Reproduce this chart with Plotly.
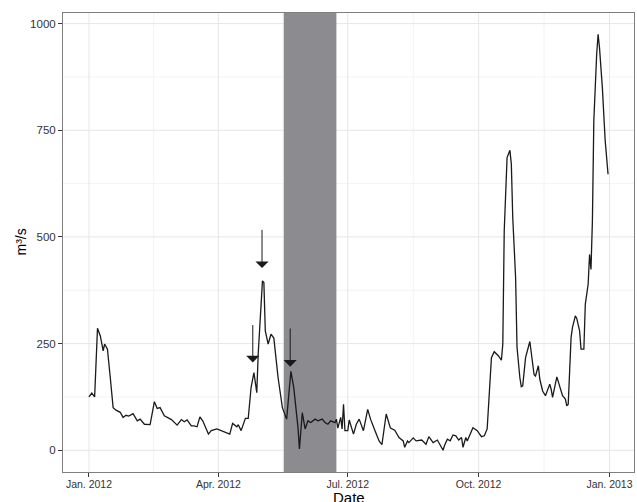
import pandas as pd
import plotly.graph_objects as go

# Daily discharge (m3/s), day offset from 2012-01-01
day = [0, 2, 4, 6, 8, 10, 11, 13, 15, 17, 19, 22, 24, 26, 28, 31, 34, 36, 39, 43,
       46, 48, 50, 53, 58, 62, 65, 67, 69, 72, 74, 76, 78, 80, 84, 86, 90, 93, 97, 99,
       101, 104, 105, 107, 110, 112, 114, 116, 118, 119, 122, 123, 124, 126, 128, 130, 133, 136, 139, 142,
       144, 146, 147, 148, 150, 152, 154, 156, 159, 161, 164, 166, 168, 170, 173, 174, 175, 177, 178, 179,
       180, 182, 183, 186, 188, 190, 193, 196, 198, 201, 204, 206, 209, 212, 215, 218, 221, 222, 224, 225,
       228, 230, 234, 237, 239, 242, 245, 249, 250, 252, 254, 256, 258, 260, 262, 263, 265, 266, 268, 270,
       273, 276, 278, 280, 283, 285, 288, 290, 291, 292, 294, 296, 297, 298, 300, 301, 303, 304, 305, 307,
       310, 312, 313, 314, 316, 317, 319, 321, 324, 325, 326, 329, 331, 333, 335, 336, 337, 339, 340, 342,
       343, 345, 346, 348, 349, 351, 352, 353, 354, 355, 357, 358, 359, 361, 363, 365]
flow = [125, 134, 125, 286, 268, 233, 249, 237, 170, 100, 94, 89, 77, 82, 80, 86, 69, 73, 61, 60,
        114, 98, 100, 81, 72, 59, 72, 67, 71, 57, 57, 55, 78, 69, 38, 46, 50, 46, 42, 38,
        63, 55, 60, 46, 75, 75, 147, 182, 135, 225, 397, 393, 280, 249, 272, 263, 170, 100, 73, 185,
        147, 93, 53, 3, 88, 50, 69, 65, 73, 69, 73, 65, 61, 69, 65, 73, 52, 77, 50, 108,
        46, 46, 71, 38, 61, 73, 46, 96, 73, 47, 22, 13, 85, 52, 47, 30, 22, 7, 22, 18,
        29, 22, 24, 14, 32, 18, 24, 0, 11, 26, 22, 36, 34, 24, 30, 7, 30, 22, 38, 53,
        46, 32, 34, 50, 217, 231, 221, 211, 249, 514, 686, 703, 670, 545, 405, 241, 170, 149, 151, 217,
        255, 210, 177, 174, 198, 167, 139, 128, 155, 143, 124, 172, 150, 128, 120, 104, 108, 264, 288, 315,
        309, 280, 237, 237, 342, 389, 459, 424, 537, 772, 928, 975, 943, 850, 725, 647]

shade_start = "2012-05-17"
shade_end = "2012-06-23"

# arrows: (day offset, tail value, tip value)
arrow_day = [115.2, 121.7, 141.5]
arrow_tail = [297, 520, 289]
arrow_tip = [206, 427, 196]

tick_dates = ["2012-01-01", "2012-04-01", "2012-07-01", "2012-10-01", "2013-01-01"]
tick_text = ["Jan. 2012", "Apr. 2012", "Jul. 2012", "Oct. 2012", "Jan. 2013"]
minor_dates = ["2012-02-15 12:00", "2012-05-16 12:00", "2012-08-16", "2012-11-16"]
y_ticks = [0, 250, 500, 750, 1000]
y_minor = [125, 375, 625, 875]
x_title = "Date"
y_title = "m³/s"

start = pd.Timestamp("2012-01-01")
dates = start + pd.to_timedelta(day, unit="D")

fig = go.Figure()
fig.add_trace(go.Scatter(x=dates, y=flow, mode="lines",
                         line=dict(color="#1a1a1a", width=1.3),
                         showlegend=False, hoverinfo="skip"))

# grid lines as shapes so the shaded band covers them
minor_col, major_col = "#f3f3f3", "#e6e6e6"
for v in y_minor:
    fig.add_shape(type="line", xref="paper", yref="y", x0=0, x1=1, y0=v, y1=v,
                  line=dict(color=minor_col, width=1), layer="below")
for d in minor_dates:
    fig.add_shape(type="line", xref="x", yref="paper", x0=d, x1=d, y0=0, y1=1,
                  line=dict(color=minor_col, width=1), layer="below")
for v in y_ticks:
    fig.add_shape(type="line", xref="paper", yref="y", x0=0, x1=1, y0=v, y1=v,
                  line=dict(color=major_col, width=1), layer="below")
for d in tick_dates:
    fig.add_shape(type="line", xref="x", yref="paper", x0=d, x1=d, y0=0, y1=1,
                  line=dict(color=major_col, width=1), layer="below")

fig.add_shape(type="rect", xref="x", yref="paper", x0=shade_start, x1=shade_end,
              y0=0, y1=1, fillcolor="#8b8b90", line=dict(width=0), layer="below")

for d, t0, t1 in zip(arrow_day, arrow_tail, arrow_tip):
    xd = start + pd.Timedelta(days=d)
    fig.add_annotation(x=xd, y=t1, ax=xd, ay=t0, xref="x", yref="y",
                       axref="x", ayref="y", showarrow=True, text="",
                       arrowhead=1, arrowsize=2.2, arrowwidth=1, arrowcolor="#1a1a1a")

# axis titles as annotations (reference title is clipped at the bottom edge)
fig.add_annotation(text=x_title, xref="paper", yref="paper", x=0.5, y=0,
                   xanchor="center", yanchor="middle", yshift=-25.5,
                   showarrow=False, font=dict(size=15, color="#000000"))
fig.add_annotation(text=y_title, xref="paper", yref="paper", x=0, y=0.5,
                   xanchor="center", yanchor="middle", xshift=-43, textangle=-90,
                   showarrow=False, font=dict(size=14, color="#000000"))

font_family = "Liberation Sans, Arial, sans-serif"
fig.update_layout(
    width=637, height=502,
    margin=dict(l=63, r=3, t=13, b=30),
    paper_bgcolor="white", plot_bgcolor="white",
    font=dict(family=font_family, color="#333333"),
)
fig.update_xaxes(
    range=["2011-12-13 18:00", "2013-01-18 06:00"],
    tickmode="array", tickvals=tick_dates, ticktext=tick_text,
    tickfont=dict(size=10.5, color="#333333"),
    ticks="outside", ticklen=4, tickcolor="#333333",
    ticklabelstandoff=-2,
    showgrid=False,
    showline=True, linecolor="#7f7f7f", linewidth=1, mirror=True,
    zeroline=False, automargin=False,
)
fig.update_yaxes(
    range=[-50.9, 1024.8],
    tickmode="array", tickvals=y_ticks,
    tickfont=dict(size=11.5, color="#333333"),
    ticks="outside", ticklen=4, tickcolor="#333333",
    showgrid=False,
    showline=True, linecolor="#7f7f7f", linewidth=1, mirror=True,
    zeroline=False, automargin=False,
)

fig.write_html("out.html", config={"displayModeBar": False},
               post_script="document.body.style.margin='0';document.body.style.overflow='hidden';")
